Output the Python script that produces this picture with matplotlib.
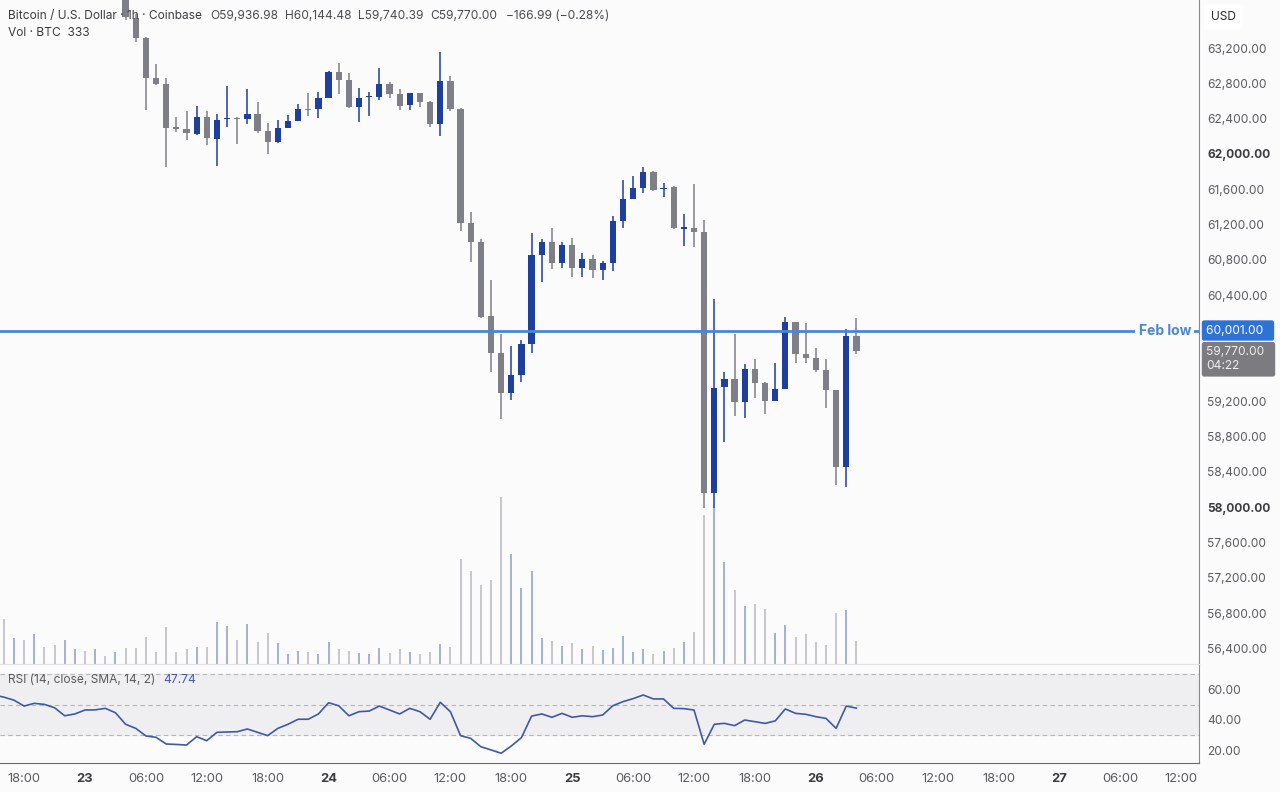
import matplotlib.pyplot as plt
from matplotlib.transforms import blended_transform_factory

plt.rcParams['font.family'] = ['Inter', 'DejaVu Sans']

# hours counted from 23 Feb 00:00, one candle per hour
candle_hours = list(range(4, 77))
opens = [63850, 63540, 63314, 62861, 62793, 62306, 62283, 62226, 62419, 62170,
         62396, 62408, 62396, 62453, 62260, 62136, 62294, 62374, 62510, 62510,
         62634, 62929, 62838, 62532, 62645, 62645, 62793, 62679, 62555, 62691,
         62589, 62340, 62827, 62510, 61219, 61004, 60165, 59746, 59293, 59497,
         59848, 60856, 61004, 60766, 60969, 60709, 60811, 60686, 60766, 61241,
         61490, 61615, 61796, 61604, 61626, 61156, 61162, 61117, 58161, 59361,
         59452, 59191, 59565, 59407, 59203, 59339, 60097, 59735, 59690, 59554,
         59327, 58455, 59936.98]
highs = [63950, 63580, 63330, 63019, 62861, 62419, 62487, 62544, 62487, 62453,
         62770, 62419, 62736, 62589, 62351, 62385, 62442, 62566, 62691, 62702,
         62940, 63031, 62917, 62747, 62702, 62974, 62815, 62736, 62695, 62695,
         62595, 63155, 62883, 62520, 61343, 61037, 60573, 59961, 59826, 59893,
         61105, 61037, 61162, 61004, 61049, 60879, 60856, 60788, 61298, 61706,
         61751, 61853, 61808, 61672, 61638, 61321, 61660, 61253, 60358, 59531,
         59961, 59622, 59678, 59420, 59633, 60154, 60100, 60086, 59803, 59678,
         59330, 60018, 60144.48]
lows = [63520, 63268, 62498, 62781, 61853, 62249, 62159, 62210, 62102, 61864,
        62306, 62113, 62340, 62238, 62000, 62130, 62290, 62370, 62430, 62408,
        62630, 62679, 62521, 62362, 62430, 62612, 62634, 62498, 62498, 62532,
        62306, 62204, 62487, 61128, 60777, 60143, 59531, 58999, 59214, 59418,
        59746, 60550, 60697, 60709, 60607, 60607, 60596, 60573, 60675, 61162,
        61490, 61558, 61581, 61513, 61150, 60958, 60947, 57991, 57991, 58738,
        59033, 59010, 59237, 59055, 59200, 59335, 59633, 59633, 59531, 59123,
        58251, 58229, 59740.39]
closes = [63551, 63314, 62861, 62793, 62294, 62283, 62238, 62419, 62181, 62385,
          62408, 62396, 62453, 62260, 62136, 62294, 62374, 62510, 62498, 62634,
          62929, 62838, 62532, 62634, 62657, 62793, 62679, 62544, 62691, 62589,
          62340, 62827, 62510, 61219, 61004, 60154, 59746, 59293, 59497, 59848,
          60856, 61004, 60766, 60969, 60709, 60811, 60686, 60766, 61241, 61490,
          61615, 61796, 61592, 61615, 61162, 61168, 61117, 58161, 59350, 59452,
          59191, 59565, 59407, 59203, 59339, 60097, 59735, 59690, 59554, 59327,
          58455, 59937, 59770.00]

# volume (BTC) from 22 Feb 16:00, bars before the first visible candle have their own direction
vol_hours = list(range(-8, 77))
volumes = [653, 377, 348, 435, 247, 276, 348, 218, 189, 218, 116, 174,
           232, 232, 392, 174, 537, 174, 218, 247, 247, 609, 551, 348, 580, 319,
           450, 305, 145, 189, 174, 145, 319, 218, 189, 160, 145, 232, 160, 218,
           174, 145, 174,
           290, 247, 1523, 1349, 1146, 1218, 2422, 1595, 1102, 1349, 377, 334,
           261, 305, 218, 261, 203, 232, 406, 174, 218, 145, 189, 232, 319, 464,
           2161, 2262, 1479, 1073, 841, 870, 798, 450, 566, 392, 435, 319, 276,
           740, 783, 333]
early_up = [False, True, False, True, False, False, True, True, False, True, False, True]

rsi_hours = list(range(-9, 77))
rsi = [56.5, 55.0, 53.0, 49.1, 50.9, 50.2, 48.0, 42.7, 43.9, 46.5, 46.6, 47.6,
       44.7, 37.1, 34.4, 29.4, 28.5, 24.1, 23.8, 23.4, 28.9, 26.3, 31.8, 32.0,
       32.2, 34.0, 31.8, 29.6, 34.4, 37.1, 40.4, 40.4, 43.9, 51.3, 49.3, 42.7,
       45.4, 45.8, 49.1, 46.5, 43.9, 47.6, 45.4, 40.4, 51.6, 45.4, 29.6, 27.8,
       22.3, 20.2, 18.0, 22.8, 28.3, 42.5, 43.9, 41.7, 44.3, 41.7, 42.7, 42.1,
       43.2, 49.3, 52.0, 54.0, 56.4, 53.8, 53.8, 47.6, 47.4, 46.5, 23.9, 37.1,
       37.7, 36.2, 39.9, 38.8, 37.7, 39.3, 47.2, 44.3, 43.7, 42.1, 41.0, 34.4,
       49.1, 47.74]

feb_low = 60001.00
price_ticks = [56400, 56800, 57200, 57600, 58000, 58400, 58800, 59200, 59600,
               60000, 60400, 60800, 61200, 61600, 62000, 62400, 62800, 63200]
hidden_price_ticks = [59600, 60000]
rsi_ticks = [20, 40, 60]
time_ticks = [-6, 0, 6, 12, 18, 24, 30, 36, 42, 48, 54, 60, 66, 72, 78, 84, 90, 96, 102, 108]
time_labels = ['18:00', '23', '06:00', '12:00', '18:00', '24', '06:00', '12:00', '18:00',
               '25', '06:00', '12:00', '18:00', '26', '06:00', '12:00', '18:00', '27',
               '06:00', '12:00']

bg = '#fbfbfc'
up_col = '#1f3f9c'
dn_col = '#7f7f87'
txt = '#5a5a5f'
fs = 8.6

fig = plt.figure(figsize=(12.8, 7.92), dpi=100, facecolor=bg)
W, H = 1280, 792
ax = fig.add_axes([0, 1 - 664 / H, 1199 / W, 664 / H], facecolor=bg)
axr = fig.add_axes([0, 1 - 763 / H, 1199 / W, 99 / H], facecolor=bg)
xlim = (-85 / 10.15, (1199 - 85) / 10.15)

# volume underlay
vax = ax.twinx()
vax.set_ylim(0, 664 * 14.5)
vax.set_xlim(*xlim)
vcols = []
for i, h in enumerate(vol_hours):
    if h < 4:
        up = early_up[i]
    else:
        k = h - 4
        up = closes[k] >= opens[k]
    vcols.append('#8c9ccb' if up else '#b9b9be')
vax.vlines(vol_hours, 0, volumes, colors=vcols, lw=1.1)
vax.set_yticks([])
for s in vax.spines.values():
    s.set_visible(False)
vax.set_zorder(0)
ax.set_zorder(1)
ax.patch.set_visible(False)

# candles
for k, h in enumerate(candle_hours):
    o, hi, lo, c = opens[k], highs[k], lows[k], closes[k]
    col = up_col if c > o else dn_col
    ax.vlines(h, lo, hi, color=col, lw=1.1, zorder=3)
    bottom = min(o, c)
    height = max(abs(c - o), 14)
    ax.bar(h, height, bottom=bottom, width=0.62, color=col, zorder=4)

ax.axhline(feb_low, color='#4a86d4', lw=2, zorder=5)
ax.text((1191 - 85) / 10.15, feb_low, 'Feb low', color='#4a86d4', fontsize=10,
        fontweight='bold', ha='right', va='center', zorder=6,
        bbox=dict(facecolor=bg, edgecolor='none', pad=2.5))

ax.set_xlim(*xlim)
ax.set_ylim(63744 - 664 * 11.325, 63744)
ax.yaxis.tick_right()
ax.set_yticks(price_ticks)
ax.set_yticklabels(['' if v in hidden_price_ticks else f'{v:,.2f}' for v in price_ticks])
ax.tick_params(axis='y', length=0, pad=6, labelsize=fs, labelcolor=txt)
for lab, v in zip(ax.get_yticklabels(), price_ticks):
    if v in (58000, 62000):
        lab.set_fontweight('bold')
        lab.set_color('#3c3c40')
ax.set_xticks([])
for s in ['top', 'left']:
    ax.spines[s].set_visible(False)
ax.spines['right'].set_color('#8a8a8f')
ax.spines['bottom'].set_color('#e2e2e5')

tr = blended_transform_factory(ax.transAxes, ax.transData)
ax.text(1.0 + 7 / 1199, feb_low, '60,001.00  ', color='white', fontsize=fs, va='center',
        ha='left', transform=tr, clip_on=False, zorder=7,
        bbox=dict(boxstyle='round,pad=0.35,rounding_size=0.2', facecolor='#2f72d6', edgecolor='none'))
ax.text(1.0 + 7 / 1199, 59770.00 - 95, '59,770.00  \n04:22', color='#eeeeee', fontsize=fs,
        va='center', ha='left', transform=tr, clip_on=False, zorder=7, linespacing=1.25,
        bbox=dict(boxstyle='round,pad=0.35,rounding_size=0.2', facecolor='#7b7b80', edgecolor='none'))
ax.text(1.0 + 12 / 1199, 1 - 17 / 664, 'USD', color='#2b2b2f', fontsize=fs, va='center',
        ha='left', transform=ax.transAxes, clip_on=False, zorder=7,
        bbox=dict(boxstyle='round,pad=0.55,rounding_size=0.3', facecolor='white', edgecolor='none'))

# header
fig.text(8 / W, 1 - 16 / H, 'Bitcoin / U.S. Dollar · 1h · Coinbase', color='#3c3c40',
         fontsize=fs, va='center', zorder=1)
for x, s in [(210, 'O59,936.98'), (285, 'H60,144.48'), (358, 'L59,740.39'),
             (430, 'C59,770.00'), (506, '−166.99 (−0.28%)')]:
    fig.text(x / W, 1 - 16 / H, s, color='#4a4a4f', fontsize=fs, va='center')
fig.text(8 / W, 1 - 33 / H, 'Vol · BTC  333', color='#3c3c40', fontsize=fs, va='center')

# RSI pane
axr.set_xlim(*xlim)
axr.set_ylim(50 - (763 - 704.7) / 1.517, 50 + (704.7 - 664) / 1.517)
axr.axhspan(30, 70, color='#efeff1', zorder=0)
for lv in (30, 50, 70):
    axr.axhline(lv, color='#b5b5ba', lw=0.8, dashes=(4, 3), zorder=1)
axr.plot(rsi_hours, rsi, color='#3f58a8', lw=1.2, zorder=3)
axr.text(8 / 1199, 1 - 16 / 99, 'RSI (14, close, SMA, 14, 2)', transform=axr.transAxes,
         color=txt, fontsize=fs, va='center')
axr.text(163 / 1199, 1 - 16 / 99, '47.74', transform=axr.transAxes,
         color='#3f58a8', fontsize=fs, va='center')
axr.yaxis.tick_right()
axr.set_yticks(rsi_ticks)
axr.set_yticklabels([f'{v:.2f}' for v in rsi_ticks])
axr.tick_params(axis='y', length=0, pad=6, labelsize=fs, labelcolor=txt)
axr.set_xticks(time_ticks)
axr.set_xticklabels(time_labels)
axr.tick_params(axis='x', length=0, pad=7, labelsize=9.3, labelcolor=txt)
for lab in axr.get_xticklabels():
    if ':' not in lab.get_text():
        lab.set_fontweight('bold')
        lab.set_color('#3c3c40')
for s in ['top', 'left']:
    axr.spines[s].set_visible(False)
axr.spines['right'].set_color('#8a8a8f')
axr.spines['bottom'].set_color('#6a6a70')

fig.savefig('out.png', dpi=100, facecolor=bg)
